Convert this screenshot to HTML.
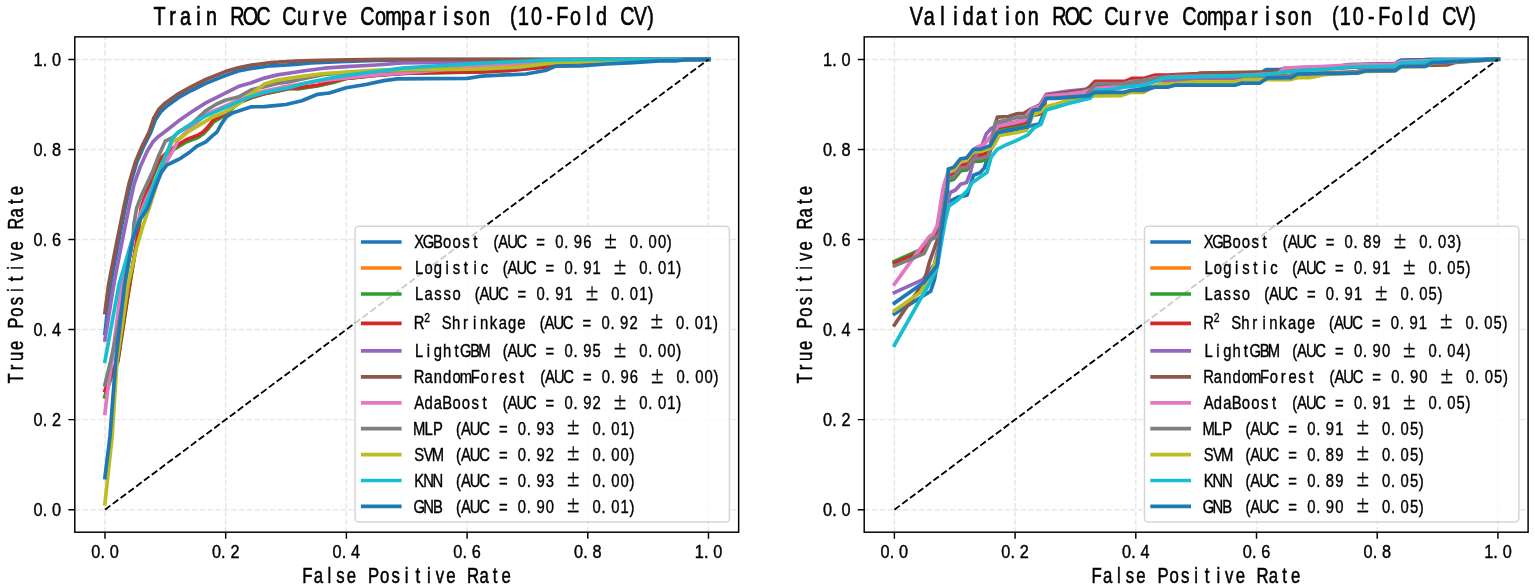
<!DOCTYPE html>
<html lang="en"><head><meta charset="utf-8"><title>ROC Curve Comparison (10-Fold CV)</title>
<style>html,body{margin:0;padding:0;background:#fff}svg{display:block}text{font-family:"Liberation Sans","WenQuanYi Zen Hei",sans-serif;fill:#000;stroke:#000;text-anchor:middle;white-space:pre}.c{fill:none;stroke-width:3.68;stroke-linejoin:round;stroke-linecap:square}.g{stroke:#b0b0b0;stroke-opacity:.3;stroke-width:1.47;stroke-dasharray:5.45 2.36;fill:none}.s{stroke:#000;stroke-width:1.47;fill:none}.pm{font-family:"IPAGothic","Noto Sans CJK SC","Liberation Sans",sans-serif;stroke-width:.2}</style></head><body>
<svg width="1535" height="588" viewBox="0 0 1535 588">
<rect width="1535" height="588" fill="#fff"/>
<defs>
<clipPath id="cp0"><rect x="74.8" y="36.87" width="663.85" height="495.33"/></clipPath>
<clipPath id="cp1"><rect x="864.2" y="36.87" width="663.9" height="495.33"/></clipPath>
</defs>
<g>
<path class="g" d="M104.97 532.2V36.87M225.68 532.2V36.87M346.38 532.2V36.87M467.08 532.2V36.87M587.77 532.2V36.87M708.47 532.2V36.87M74.8 509.69H738.65M74.8 419.63H738.65M74.8 329.57H738.65M74.8 239.5H738.65M74.8 149.45H738.65M74.8 59.39H738.65"/>
<g clip-path="url(#cp0)">
<polyline class="c" stroke="#1f77b4" points="104.9,333.5 110.6,284 117.5,247 125.2,208 130.4,184 136.9,162 144.1,145.3 150.6,132.6 155.3,120 160.6,112 167,106 178.4,97.7 191.4,90.5 205.8,83.4 225.3,75.5 238.3,71 251.4,68.4 270.9,65.8 295,64.5 311,63 346.2,61.5 376.2,60.4 420,59.7 709,59.3"/>
<polyline class="c" stroke="#ff7f0e" points="104.9,396 111,377 117.8,361 126.3,305 131,276 137,241 141.2,209 152,177 159,161 168,152.5 175.8,147.3 186.2,141 197.9,136.5 203.1,133 208.4,127.4 213.6,120.8 225.3,114 238.3,102.7 251.4,97.5 264.4,93.6 277.4,91 290,88.25 298,88.5 317.6,85.5 333.2,82 346.2,78.4 376.2,75.2 402.3,73.4 441,68.5 480,66.9 520,65 560,62 600,60.5 709,59.3"/>
<polyline class="c" stroke="#2ca02c" points="104.9,397 111,378 117.8,362 126.3,306 131,277 137,242 141.2,210 152,178 159,162 168,153.5 175.8,148.3 186.2,142 197.9,137.5 203.1,134 208.4,128.4 213.6,121.8 225.3,115 238.3,102.9 251.4,97.7 264.4,93.8 277.4,91.2 290,88.35 298,89 317.6,86 333.2,82.5 346.2,78.5 376.2,75.3 402.3,73.45 415.3,73.2 454.4,72.4 480,72 510.2,70.5 545.4,67 563,63.5 600,61.5 640,60.3 709,59.3"/>
<polyline class="c" stroke="#d62728" points="104.9,390.6 111,375 117.8,360 126.3,303.5 131,275 137,240 141.2,208 152,176 159,160 168,151.5 175.8,146.3 186.2,139.8 197.9,135.3 203.1,132 208.4,126.4 213.6,119.8 225.3,113.3 238.3,102.5 251.4,97.3 264.4,93.4 277.4,90.8 290,88.15 298,87.8 317.6,85.2 333.2,81.3 346.2,78.3 376.2,75.1 402.3,73.35 415.3,72.8 454.4,72.1 480,72 510.2,70.5 545.4,67 563,63.5 600,61.5 640,60.3 709,59.3"/>
<polyline class="c" stroke="#9467bd" points="104.9,340 113.9,284 121,247 128.9,208 134.1,184.1 140.6,165.9 147.1,151.5 153,141.8 157.5,137.2 164.5,132 178.4,121.1 191.4,112 205.8,102.9 225.3,93.1 238.3,86.6 251.4,82.7 264.4,78.1 277.4,74.9 295,72.3 304.5,70.8 324.1,68.2 346.2,66.7 376.2,65 402.3,63 441.4,62.4 485,61.5 545,60.2 600,59.5 709,59.3"/>
<polyline class="c" stroke="#8c564b" points="104.9,312.7 108.7,284 115.8,247.1 123.7,208 128.9,184.1 135.4,162 142.6,145 149.1,132 153.6,118.5 158.8,109.4 165.4,102.9 178.4,93.8 191.4,86.6 205.8,79.5 225.3,71.6 238.3,67.7 251.4,65.1 270.9,62.5 295,61.2 311,60.7 346.2,59.8 389.2,59.4 709,59.3"/>
<polyline class="c" stroke="#e377c2" points="104.9,413.4 107.4,392.6 111.9,360 121.7,284 127,258 133,237 140,215 148,195 157,178 165.4,163.3 173.2,150.2 178.4,139.8 185,133 195,124 205.8,114.5 216,110 225.3,106 238.3,100.1 251.4,94.9 264.4,91 277.4,88.4 285,86.5 304.5,83.5 324,80.5 346.2,78 376.2,74.8 402.3,73.2 441,70 475,66 520,63 560,61 600,60 709,59.3"/>
<polyline class="c" stroke="#7f7f7f" points="104.9,384.8 110.9,360 116.5,335 122.2,305 124.7,284 129,260 132.8,239.3 134,223.6 136.7,208 141.9,194.5 152.3,172.4 158.8,155.5 165.4,141.1 173.2,137.2 178.4,132.5 191.4,124 200,116 205.8,110.7 216.2,104.2 225.3,100.3 238.3,97 251.4,89.9 264.4,86.6 277.4,83.4 290,81.6 304.5,78.5 324.1,74.5 346.2,72.8 376.2,70.8 415,69.8 455,69.5 485,69 519,67.3 554,63 598,61.4 633,60.2 680,59.6 709,59.3"/>
<polyline class="c" stroke="#bcbd22" points="104.9,503.8 108,475 112.2,436 117.1,360 128.2,284 136.7,247.1 143.2,225 149.2,208 155.6,188 160.8,170 164.6,158 168.6,148.8 172.8,141 179.7,138.5 188,132 199.2,125.1 212.3,117.2 225.3,112 238.3,104.2 251.4,93.8 264.4,84 277.4,80.1 288,78.3 304.5,76.1 324.1,73.5 346.2,72.1 376.2,70.2 415.3,69.5 454.4,69.3 480,68.8 519,67 554.2,62.6 598.1,61.2 633.3,60 680,59.5 709,59.3"/>
<polyline class="c" stroke="#17becf" points="104.9,361.3 119.1,284 128.9,251 137,225 144.5,208 153.6,184.1 161.4,165.9 168,150.2 172.5,138 178.4,132 191.4,123.8 205.8,115.9 225.3,107.5 238.3,101.6 251.4,96.4 264.4,92.5 277.4,89.9 290,87.5 304.5,83.2 324.1,79.3 346.2,75.4 376.2,71.5 402.3,68.2 441.4,65.6 480,63.3 545.4,60.2 587.6,59.5 709,59.3"/>
<polyline class="c" stroke="#1f77b4" points="104.9,477.7 110,436 115.8,360 124.7,284 132.8,239.3 139.3,221 147.7,208 154.9,188 161.4,172.4 166.7,165.2 173.2,162 181,158.1 188.8,152.8 196.6,146.3 205.8,141.8 212.3,135.9 217,132 221.4,123.8 226.6,116.6 233.1,112.7 251.4,106.8 264.4,106.6 277.4,105.3 286,104.5 301.9,100.8 317.6,94.3 329.3,93 346.2,87.8 365.8,84.5 384,80.6 397,78.9 428.3,78.7 467.4,78.4 477.8,76.7 485,75.8 526,74 545.4,70.5 555.9,66.1 580.5,65.8 606.9,64 633.3,62.6 659.7,60.8 677.3,60.8 686.1,59.6 709,59.3"/>
<line x1="104.97" y1="509.69" x2="708.47" y2="59.39" stroke="#000" stroke-width="1.84" stroke-dasharray="6.8 2.94"/>
</g>
<path class="s" d="M104.97 532.2v6.44M74.8 509.69h-6.44M225.68 532.2v6.44M74.8 419.63h-6.44M346.38 532.2v6.44M74.8 329.57h-6.44M467.08 532.2v6.44M74.8 239.5h-6.44M587.77 532.2v6.44M74.8 149.45h-6.44M708.47 532.2v6.44M74.8 59.39h-6.44"/>
<rect class="s" x="74.8" y="36.87" width="663.85" height="495.33" stroke-linejoin="miter"/>
<text transform="translate(104.97,558.3) scale(0.88,1)" x="-10.51 -2.63 10.51" font-size="18.5" stroke-width="0.4">0.0</text>
<text transform="translate(61.22,515.99) scale(0.88,1)" x="-26.28 -18.39 -5.26" font-size="18.5" stroke-width="0.4">0.0</text>
<text transform="translate(225.68,558.3) scale(0.88,1)" x="-10.51 -2.63 10.51" font-size="18.5" stroke-width="0.4">0.2</text>
<text transform="translate(61.22,425.93) scale(0.88,1)" x="-26.28 -18.39 -5.26" font-size="18.5" stroke-width="0.4">0.2</text>
<text transform="translate(346.38,558.3) scale(0.88,1)" x="-10.51 -2.63 10.51" font-size="18.5" stroke-width="0.4">0.4</text>
<text transform="translate(61.22,335.87) scale(0.88,1)" x="-26.28 -18.39 -5.26" font-size="18.5" stroke-width="0.4">0.4</text>
<text transform="translate(467.08,558.3) scale(0.88,1)" x="-10.51 -2.63 10.51" font-size="18.5" stroke-width="0.4">0.6</text>
<text transform="translate(61.22,245.81) scale(0.88,1)" x="-26.28 -18.39 -5.26" font-size="18.5" stroke-width="0.4">0.6</text>
<text transform="translate(587.77,558.3) scale(0.88,1)" x="-10.51 -2.63 10.51" font-size="18.5" stroke-width="0.4">0.8</text>
<text transform="translate(61.22,155.75) scale(0.88,1)" x="-26.28 -18.39 -5.26" font-size="18.5" stroke-width="0.4">0.8</text>
<text transform="translate(708.47,558.3) scale(0.88,1)" x="-10.51 -2.63 10.51" font-size="18.5" stroke-width="0.4">1.0</text>
<text transform="translate(61.22,65.69) scale(0.88,1)" x="-26.28 -18.39 -5.26" font-size="18.5" stroke-width="0.4">1.0</text>
<text transform="translate(406.72,582.5) scale(0.76,1)" x="-130.86 -116.32 -101.78 -87.24 -72.7 -58.16 -43.62 -29.08 -14.54 0 14.54 29.08 43.62 58.16 72.7 87.24 101.78 116.32 130.86" font-size="22.1" stroke-width="0.5">False Positive Rate</text>
<text transform="translate(22.6,284.54) rotate(-90) scale(0.76,1)" x="-123.59 -109.05 -94.51 -79.97 -65.43 -50.89 -36.35 -21.81 -7.27 7.27 21.81 36.35 50.89 65.43 79.97 94.51 109.05 123.59" font-size="22.1" stroke-width="0.5">True Positive Rate</text>
<text transform="translate(406.42,25) scale(0.76,1)" x="-325 -307.89 -290.79 -273.68 -256.58 -239.47 -222.37 -205.26 -188.16 -171.05 -153.95 -136.84 -119.74 -102.63 -85.53 -68.42 -51.32 -34.21 -17.11 0 17.11 34.21 51.32 68.42 85.53 102.63 119.74 140.61 153.95 171.05 188.16 205.26 222.37 239.47 256.58 273.68 290.79 307.89 321.24" font-size="26" stroke-width="0.65">Train ROC Curve Comparison (10-Fold CV)</text>
<rect x="355.1" y="226.2" width="374.35" height="295.8" rx="3.7" ry="3.7" fill="#fff" fill-opacity=".8" stroke="#ccc" stroke-opacity=".8" stroke-width="1.5"/>
<line x1="360.9" y1="242" x2="401.6" y2="242" stroke="#1f77b4" stroke-width="3.68"/>
<text transform="translate(414.5,248.2) scale(0.8,1)" x="5.84 17.51 29.19 40.86 52.54 64.21 75.89 87.56 101.81 110.91 122.59 134.26 145.94 157.61 169.29 180.96 189.72 204.31 215.99 227.66 245.18 262.69 274.36 283.12 297.71 309.39 318.49" font-size="18.5" stroke-width="0.4">XGBoost (AUC = 0.96 <tspan class="pm" font-size="19.43" dy="0.55">±</tspan><tspan dy="-0.55"> 0.00)</tspan></text>
<line x1="360.9" y1="268" x2="401.6" y2="268" stroke="#ff7f0e" stroke-width="3.68"/>
<text transform="translate(414.5,274.2) scale(0.8,1)" x="5.84 17.51 29.19 40.86 52.54 64.21 75.89 87.56 99.24 113.48 122.59 134.26 145.94 157.61 169.29 180.96 192.64 201.39 215.99 227.66 239.34 256.85 274.36 286.04 294.79 309.39 321.06 330.17" font-size="18.5" stroke-width="0.4">Logistic (AUC = 0.91 <tspan class="pm" font-size="19.43" dy="0.55">±</tspan><tspan dy="-0.55"> 0.01)</tspan></text>
<line x1="360.9" y1="294" x2="401.6" y2="294" stroke="#2ca02c" stroke-width="3.68"/>
<text transform="translate(414.5,300.2) scale(0.8,1)" x="5.84 17.51 29.19 40.86 52.54 64.21 78.46 87.56 99.24 110.91 122.59 134.26 145.94 157.61 166.37 180.96 192.64 204.31 221.83 239.34 251.01 259.77 274.36 286.04 295.14" font-size="18.5" stroke-width="0.4">Lasso (AUC = 0.91 <tspan class="pm" font-size="19.43" dy="0.55">±</tspan><tspan dy="-0.55"> 0.01)</tspan></text>
<line x1="360.9" y1="323.3" x2="401.6" y2="323.3" stroke="#d62728" stroke-width="3.68"/>
<text transform="translate(414.5,328.9) scale(0.8,1)" x="5.84 15.82 28.6 40.28 51.95 63.63 75.3 86.98 98.65 110.33 122 133.68 145.35 159.6 168.7 180.38 192.05 203.73 215.4 227.08 238.75 247.51 262.1 273.78 285.45 302.97 320.48 332.15 340.91 355.5 367.18 376.29" font-size="18.5" stroke-width="0.4">R<tspan font-size="12.95" dy="-6.66">2</tspan><tspan dy="6.66"> Shrinkage (AUC = 0.92 <tspan class="pm" font-size="19.43" dy="0.55">±</tspan><tspan dy="-0.55"> 0.01)</tspan></tspan></text>
<line x1="360.9" y1="350.8" x2="401.6" y2="350.8" stroke="#9467bd" stroke-width="3.68"/>
<text transform="translate(414.5,357) scale(0.8,1)" x="5.84 17.51 29.19 40.86 52.54 64.21 75.89 87.56 99.24 113.48 122.59 134.26 145.94 157.61 169.29 180.96 192.64 201.39 215.99 227.66 239.34 256.85 274.36 286.04 294.79 309.39 321.06 330.17" font-size="18.5" stroke-width="0.4">LightGBM (AUC = 0.95 <tspan class="pm" font-size="19.43" dy="0.55">±</tspan><tspan dy="-0.55"> 0.00)</tspan></text>
<line x1="360.9" y1="376.9" x2="401.6" y2="376.9" stroke="#8c564b" stroke-width="3.68"/>
<text transform="translate(414.5,383.1) scale(0.8,1)" x="5.84 17.51 29.19 40.86 52.54 64.21 75.89 87.56 99.24 110.91 122.59 134.26 145.94 160.18 169.29 180.96 192.64 204.31 215.99 227.66 239.34 248.09 262.69 274.36 286.04 303.55 321.06 332.74 341.49 356.09 367.76 376.87" font-size="18.5" stroke-width="0.4">RandomForest (AUC = 0.96 <tspan class="pm" font-size="19.43" dy="0.55">±</tspan><tspan dy="-0.55"> 0.00)</tspan></text>
<line x1="360.9" y1="402.8" x2="401.6" y2="402.8" stroke="#e377c2" stroke-width="3.68"/>
<text transform="translate(414.5,409) scale(0.8,1)" x="5.84 17.51 29.19 40.86 52.54 64.21 75.89 87.56 99.24 113.48 122.59 134.26 145.94 157.61 169.29 180.96 192.64 201.39 215.99 227.66 239.34 256.85 274.36 286.04 294.79 309.39 321.06 330.17" font-size="18.5" stroke-width="0.4">AdaBoost (AUC = 0.92 <tspan class="pm" font-size="19.43" dy="0.55">±</tspan><tspan dy="-0.55"> 0.01)</tspan></text>
<line x1="360.9" y1="428.7" x2="401.6" y2="428.7" stroke="#7f7f7f" stroke-width="3.68"/>
<text transform="translate(414.5,434.9) scale(0.8,1)" x="5.84 17.51 29.19 40.86 55.11 64.21 75.89 87.56 99.24 110.91 122.59 134.26 143.02 157.61 169.29 180.96 198.48 215.99 227.66 236.42 251.01 262.69 271.79" font-size="18.5" stroke-width="0.4">MLP (AUC = 0.93 <tspan class="pm" font-size="19.43" dy="0.55">±</tspan><tspan dy="-0.55"> 0.01)</tspan></text>
<line x1="360.9" y1="454.6" x2="401.6" y2="454.6" stroke="#bcbd22" stroke-width="3.68"/>
<text transform="translate(414.5,460.8) scale(0.8,1)" x="5.84 17.51 29.19 40.86 55.11 64.21 75.89 87.56 99.24 110.91 122.59 134.26 143.02 157.61 169.29 180.96 198.48 215.99 227.66 236.42 251.01 262.69 271.79" font-size="18.5" stroke-width="0.4">SVM (AUC = 0.92 <tspan class="pm" font-size="19.43" dy="0.55">±</tspan><tspan dy="-0.55"> 0.00)</tspan></text>
<line x1="360.9" y1="480.5" x2="401.6" y2="480.5" stroke="#17becf" stroke-width="3.68"/>
<text transform="translate(414.5,486.7) scale(0.8,1)" x="5.84 17.51 29.19 40.86 55.11 64.21 75.89 87.56 99.24 110.91 122.59 134.26 143.02 157.61 169.29 180.96 198.48 215.99 227.66 236.42 251.01 262.69 271.79" font-size="18.5" stroke-width="0.4">KNN (AUC = 0.93 <tspan class="pm" font-size="19.43" dy="0.55">±</tspan><tspan dy="-0.55"> 0.00)</tspan></text>
<line x1="360.9" y1="506.4" x2="401.6" y2="506.4" stroke="#1f77b4" stroke-width="3.68"/>
<text transform="translate(414.5,512.6) scale(0.8,1)" x="5.84 17.51 29.19 40.86 55.11 64.21 75.89 87.56 99.24 110.91 122.59 134.26 143.02 157.61 169.29 180.96 198.48 215.99 227.66 236.42 251.01 262.69 271.79" font-size="18.5" stroke-width="0.4">GNB (AUC = 0.90 <tspan class="pm" font-size="19.43" dy="0.55">±</tspan><tspan dy="-0.55"> 0.01)</tspan></text>
</g>
<g>
<path class="g" d="M894.38 532.2V36.87M1015.09 532.2V36.87M1135.8 532.2V36.87M1256.5 532.2V36.87M1377.21 532.2V36.87M1497.92 532.2V36.87M864.2 509.69H1528.1M864.2 419.63H1528.1M864.2 329.57H1528.1M864.2 239.5H1528.1M864.2 149.45H1528.1M864.2 59.39H1528.1"/>
<g clip-path="url(#cp1)">
<polyline class="c" stroke="#1f77b4" points="894.4,313.9 930.6,291.3 934.5,279.6 940,247 945,215 947.5,202.3 958,197.1 967.1,195.1 973.5,175.3 980,172.8 984.4,168 987,159 992,146 997.5,133 1005.8,131.5 1018.8,129 1029.2,126.3 1039.7,123.7 1043.6,113.3 1046.5,108 1055,105 1068,102 1089,97 1095,94 1124,93 1130,91 1155,86 1175,82 1200,79 1235,77 1259.6,73.5 1266.1,69.5 1280.4,69.5 1285,68.2 1334.9,66.5 1349.9,64.7 1394.9,63.5 1400.9,60.2 1424.8,59.7 1430.8,59.3 1498.3,59.3"/>
<polyline class="c" stroke="#ff7f0e" points="894.4,262 916.3,252 924,249.5 930,239 936,233 940,225 944,199 947.5,174 948.5,172.9 954,171.2 960.8,162.7 966.8,161.9 973.6,153.4 981.2,153.1 988.2,150.5 990,147 994,135 998,128 1026.6,123.5 1031,115.5 1042,113 1046,97.5 1068,94 1085,90.5 1089,88 1095,82.5 1125,82.5 1132,79.5 1144,79.5 1155,76 1170,76 1200,74.5 1260,73 1267,72.6 1300,69 1335,67.5 1350,65.5 1395,64.5 1401,62.5 1432,61 1498.3,59.3"/>
<polyline class="c" stroke="#2ca02c" points="894.4,261.4 916.3,251.6 924,249 930,239.5 936,233.5 940,226 944,202 947.5,183 948.5,180.9 954,179.2 960.8,170.7 966.8,169.9 973.6,161.4 981.2,161.1 988.2,158.5 990,150 994,136 998,128.9 1026.6,124.3 1031,116 1042,113.5 1046,98 1068,94.5 1085,91 1089,88.5 1095,83 1125,83 1132,80 1144,80 1155,76.5 1170,76.5 1200,75 1260,73.5 1267,72.6 1300,69.5 1335,68 1350,66 1395,65 1401,63 1432,61.5 1498.3,59.3"/>
<polyline class="c" stroke="#d62728" points="894.4,263.3 922.8,250.9 930,238 936,232 940,225 944,200 947.5,178 948.5,174.9 954,173.2 960.8,164.7 966.8,163.9 973.6,155.4 981.2,155.1 988.2,152.5 990,148 994,134 998,127.5 1016,124 1026,122 1031,115 1035.7,113.9 1042.3,112.6 1046,97 1068,93.5 1085,90 1089.2,87.2 1094.4,82 1095.4,81.3 1125.4,81.3 1131.9,78.4 1143.6,78.4 1155.4,75 1169.7,75 1176,74.5 1200,73.5 1260,72.5 1267,72.6 1300,68.5 1335,67 1350,65 1395,64 1401,62 1432,61 1498.3,59.3"/>
<polyline class="c" stroke="#9467bd" points="894.4,292.6 922.8,279.6 934.5,264 939,245 943,225 947,205 950.1,192.5 955.5,190 960.6,184.2 966.6,182.5 970,174 972.5,163.8 978,150 982.5,144 986.2,134.1 991.4,128.3 998,125 1016,122 1026,120 1031,110 1039.7,105.5 1046.2,94.4 1068.3,91.1 1087.9,89.2 1095,86 1125,86 1131,83.5 1144,83 1158,81 1176.2,80 1241.4,79.3 1247.6,76.7 1260,76.3 1290,76 1297,74.5 1335,73.5 1357,72 1365,70 1395,69 1401,65 1425,64.5 1432,61.5 1498.3,59.3"/>
<polyline class="c" stroke="#8c564b" points="894.4,325 904.5,310 924.1,282.2 929.3,262.7 937.1,240.5 938.4,234 943,205 947.5,180 948.5,178.9 954,177.2 960.8,168.7 966.8,167.9 973.6,159.4 981.2,159.1 988.2,156.5 992.8,134.1 997.3,117.2 1008.4,116.5 1016.2,113.9 1024,113.3 1029.2,110 1034.4,107.4 1040,105 1046,95.5 1068,92.5 1085,90 1090,88 1095,84.5 1125,84.5 1132,81 1144,80 1156,77 1176.2,74.8 1194.4,74.5 1199.7,73.2 1259.6,72.1 1267,72.6 1300,70 1335,68.5 1350,67.5 1395,66.5 1401,65.5 1425,65.5 1447,65 1455,62.5 1498.3,59.3"/>
<polyline class="c" stroke="#e377c2" points="894.4,284.2 917.6,252.2 929.3,236.6 933.2,234 937.1,225.8 942.8,190 944.9,181.5 948.2,172.3 953.8,170.5 960.6,162 966.6,160.5 972,152 975.9,147.7 984.5,144 991,136 998,126.3 1016.2,122.4 1024,120.4 1029.2,112 1033.1,108.1 1040,106 1046,96 1068,94 1081.4,92.4 1094.4,88.5 1111.1,87.1 1130.6,81.9 1143.6,80.6 1155,78 1176,76.5 1240,75.5 1260,74.3 1278,73.5 1284,68.2 1320,66.5 1350,65 1395,64 1401,61.5 1432,60.5 1498.3,59.3"/>
<polyline class="c" stroke="#7f7f7f" points="894.4,265.9 924.1,253.5 930.6,239.9 937.1,236.6 939.7,234 944,205 947.5,183 948.5,178.4 954,176.7 960.8,168.2 966.8,167.4 973.6,158.9 981.2,158.6 988.2,156 993,135 995.4,122.4 1005.8,120.4 1016.2,117.8 1027.9,116.5 1033,110.5 1039.7,109.6 1046.2,98.5 1068,97.2 1085,95.8 1089.2,91.8 1094.4,85.3 1096.1,83.6 1124.1,83.6 1158,78 1170,77.5 1200,77 1260,76 1290,75.3 1297,73.5 1335,72.5 1357,71.5 1365,69.5 1395,68.5 1401,64 1425,63.5 1432,61 1498.3,59.3"/>
<polyline class="c" stroke="#bcbd22" points="894.4,310.7 920.2,292.6 930.6,274.4 938,255 942,230 947,195 948.5,171.2 954,169.5 960.8,161 966.8,160.2 973.6,151.7 981.2,151.4 988.2,148.8 992.8,147.2 999.3,135.4 1016.2,132.8 1026.6,130.2 1033,115 1040,112 1046.2,106.8 1055.3,104.2 1068.3,100.3 1094.1,96 1121.5,95.6 1130.6,92.3 1143.6,92.3 1158,84.5 1169.7,83.9 1195.8,81.9 1234.8,81.9 1245.3,79.6 1290,79.6 1297.5,77.7 1309.5,77.7 1324.4,74.7 1357,73 1365,71.5 1395,71 1401,67 1425,66.5 1432,63 1455,62 1498.3,59.3"/>
<polyline class="c" stroke="#17becf" points="894.4,345.2 914.3,310 929.3,283.5 937.1,267.9 941,245 945,222 948.8,206.2 958,199.7 967.4,190.5 972.5,182.5 981,176.6 987,172.3 991.2,157 997.2,149.4 1006.5,144.7 1016.2,140.6 1027.9,134.8 1034.4,127.6 1041,124.3 1046.2,110 1055.3,107.4 1068.3,103.5 1085,99.5 1090.2,98.2 1095.4,90.4 1111.1,89.7 1124.1,87.1 1143.6,85.2 1158,80.6 1163.2,78 1176.2,77.4 1215.3,76.1 1259.6,74.8 1267.4,74.1 1285,72.1 1300,70.5 1335,68.5 1350,67 1395,66 1401,63 1425,62 1432,60.5 1498.3,59.3"/>
<polyline class="c" stroke="#1f77b4" points="894.4,303.1 924.1,282.2 937.1,265.3 941,234 947.4,190 948.3,168.9 953.8,167.2 960.6,158.7 966.6,157.9 973.4,149.4 981,149.1 990.1,145.8 997.3,132.8 1005.8,130.9 1018.8,128.3 1027.9,127 1033.1,110 1039.7,109.4 1046.2,98.3 1055.3,98.3 1068.3,97.4 1089.2,95.7 1094.1,92.3 1124.1,92.3 1130.6,90.4 1143.6,90.4 1155.4,87.1 1168.4,87.1 1174.9,85.2 1234.8,85.2 1241.4,83.2 1259.6,83.2 1267.4,78 1291.5,77.7 1297.5,74 1357.4,73.2 1364.9,71 1394.9,70.7 1400.9,66.5 1424.8,66.5 1432.3,62.7 1454.8,61.7 1498.3,59.3"/>
<line x1="894.38" y1="509.69" x2="1497.92" y2="59.39" stroke="#000" stroke-width="1.84" stroke-dasharray="6.8 2.94"/>
</g>
<path class="s" d="M894.38 532.2v6.44M864.2 509.69h-6.44M1015.09 532.2v6.44M864.2 419.63h-6.44M1135.8 532.2v6.44M864.2 329.57h-6.44M1256.5 532.2v6.44M864.2 239.5h-6.44M1377.21 532.2v6.44M864.2 149.45h-6.44M1497.92 532.2v6.44M864.2 59.39h-6.44"/>
<rect class="s" x="864.2" y="36.87" width="663.9" height="495.33" stroke-linejoin="miter"/>
<text transform="translate(894.38,558.3) scale(0.88,1)" x="-10.51 -2.63 10.51" font-size="18.5" stroke-width="0.4">0.0</text>
<text transform="translate(850.62,515.99) scale(0.88,1)" x="-26.28 -18.39 -5.26" font-size="18.5" stroke-width="0.4">0.0</text>
<text transform="translate(1015.09,558.3) scale(0.88,1)" x="-10.51 -2.63 10.51" font-size="18.5" stroke-width="0.4">0.2</text>
<text transform="translate(850.62,425.93) scale(0.88,1)" x="-26.28 -18.39 -5.26" font-size="18.5" stroke-width="0.4">0.2</text>
<text transform="translate(1135.8,558.3) scale(0.88,1)" x="-10.51 -2.63 10.51" font-size="18.5" stroke-width="0.4">0.4</text>
<text transform="translate(850.62,335.87) scale(0.88,1)" x="-26.28 -18.39 -5.26" font-size="18.5" stroke-width="0.4">0.4</text>
<text transform="translate(1256.5,558.3) scale(0.88,1)" x="-10.51 -2.63 10.51" font-size="18.5" stroke-width="0.4">0.6</text>
<text transform="translate(850.62,245.81) scale(0.88,1)" x="-26.28 -18.39 -5.26" font-size="18.5" stroke-width="0.4">0.6</text>
<text transform="translate(1377.21,558.3) scale(0.88,1)" x="-10.51 -2.63 10.51" font-size="18.5" stroke-width="0.4">0.8</text>
<text transform="translate(850.62,155.75) scale(0.88,1)" x="-26.28 -18.39 -5.26" font-size="18.5" stroke-width="0.4">0.8</text>
<text transform="translate(1497.92,558.3) scale(0.88,1)" x="-10.51 -2.63 10.51" font-size="18.5" stroke-width="0.4">1.0</text>
<text transform="translate(850.62,65.69) scale(0.88,1)" x="-26.28 -18.39 -5.26" font-size="18.5" stroke-width="0.4">1.0</text>
<text transform="translate(1196.15,582.5) scale(0.76,1)" x="-130.86 -116.32 -101.78 -87.24 -72.7 -58.16 -43.62 -29.08 -14.54 0 14.54 29.08 43.62 58.16 72.7 87.24 101.78 116.32 130.86" font-size="22.1" stroke-width="0.5">False Positive Rate</text>
<text transform="translate(812,284.54) rotate(-90) scale(0.76,1)" x="-123.59 -109.05 -94.51 -79.97 -65.43 -50.89 -36.35 -21.81 -7.27 7.27 21.81 36.35 50.89 65.43 79.97 94.51 109.05 123.59" font-size="22.1" stroke-width="0.5">True Positive Rate</text>
<text transform="translate(1195.85,25) scale(0.76,1)" x="-367.76 -350.66 -333.55 -316.45 -299.34 -282.24 -265.13 -248.03 -230.92 -213.82 -196.71 -179.61 -162.5 -145.39 -128.29 -111.18 -94.08 -76.97 -59.87 -42.76 -25.66 -8.55 8.55 25.66 42.76 59.87 76.97 94.08 111.18 128.29 145.39 162.5 183.37 196.71 213.82 230.92 248.03 265.13 282.24 299.34 316.45 333.55 350.66 364" font-size="26" stroke-width="0.65">Validation ROC Curve Comparison (10-Fold CV)</text>
<rect x="1144.5" y="226.2" width="374.4" height="295.8" rx="3.7" ry="3.7" fill="#fff" fill-opacity=".8" stroke="#ccc" stroke-opacity=".8" stroke-width="1.5"/>
<line x1="1150.3" y1="242" x2="1191" y2="242" stroke="#1f77b4" stroke-width="3.68"/>
<text transform="translate(1203.9,248.2) scale(0.8,1)" x="5.84 17.51 29.19 40.86 52.54 64.21 75.89 87.56 101.81 110.91 122.59 134.26 145.94 157.61 169.29 180.96 189.72 204.31 215.99 227.66 245.18 262.69 274.36 283.12 297.71 309.39 318.49" font-size="18.5" stroke-width="0.4">XGBoost (AUC = 0.89 <tspan class="pm" font-size="19.43" dy="0.55">±</tspan><tspan dy="-0.55"> 0.03)</tspan></text>
<line x1="1150.3" y1="268" x2="1191" y2="268" stroke="#ff7f0e" stroke-width="3.68"/>
<text transform="translate(1203.9,274.2) scale(0.8,1)" x="5.84 17.51 29.19 40.86 52.54 64.21 75.89 87.56 99.24 113.48 122.59 134.26 145.94 157.61 169.29 180.96 192.64 201.39 215.99 227.66 239.34 256.85 274.36 286.04 294.79 309.39 321.06 330.17" font-size="18.5" stroke-width="0.4">Logistic (AUC = 0.91 <tspan class="pm" font-size="19.43" dy="0.55">±</tspan><tspan dy="-0.55"> 0.05)</tspan></text>
<line x1="1150.3" y1="294" x2="1191" y2="294" stroke="#2ca02c" stroke-width="3.68"/>
<text transform="translate(1203.9,300.2) scale(0.8,1)" x="5.84 17.51 29.19 40.86 52.54 64.21 78.46 87.56 99.24 110.91 122.59 134.26 145.94 157.61 166.37 180.96 192.64 204.31 221.83 239.34 251.01 259.77 274.36 286.04 295.14" font-size="18.5" stroke-width="0.4">Lasso (AUC = 0.91 <tspan class="pm" font-size="19.43" dy="0.55">±</tspan><tspan dy="-0.55"> 0.05)</tspan></text>
<line x1="1150.3" y1="323.3" x2="1191" y2="323.3" stroke="#d62728" stroke-width="3.68"/>
<text transform="translate(1203.9,328.9) scale(0.8,1)" x="5.84 15.82 28.6 40.28 51.95 63.63 75.3 86.98 98.65 110.33 122 133.68 145.35 159.6 168.7 180.38 192.05 203.73 215.4 227.08 238.75 247.51 262.1 273.78 285.45 302.97 320.48 332.15 340.91 355.5 367.18 376.29" font-size="18.5" stroke-width="0.4">R<tspan font-size="12.95" dy="-6.66">2</tspan><tspan dy="6.66"> Shrinkage (AUC = 0.91 <tspan class="pm" font-size="19.43" dy="0.55">±</tspan><tspan dy="-0.55"> 0.05)</tspan></tspan></text>
<line x1="1150.3" y1="350.8" x2="1191" y2="350.8" stroke="#9467bd" stroke-width="3.68"/>
<text transform="translate(1203.9,357) scale(0.8,1)" x="5.84 17.51 29.19 40.86 52.54 64.21 75.89 87.56 99.24 113.48 122.59 134.26 145.94 157.61 169.29 180.96 192.64 201.39 215.99 227.66 239.34 256.85 274.36 286.04 294.79 309.39 321.06 330.17" font-size="18.5" stroke-width="0.4">LightGBM (AUC = 0.90 <tspan class="pm" font-size="19.43" dy="0.55">±</tspan><tspan dy="-0.55"> 0.04)</tspan></text>
<line x1="1150.3" y1="376.9" x2="1191" y2="376.9" stroke="#8c564b" stroke-width="3.68"/>
<text transform="translate(1203.9,383.1) scale(0.8,1)" x="5.84 17.51 29.19 40.86 52.54 64.21 75.89 87.56 99.24 110.91 122.59 134.26 145.94 160.18 169.29 180.96 192.64 204.31 215.99 227.66 239.34 248.09 262.69 274.36 286.04 303.55 321.06 332.74 341.49 356.09 367.76 376.87" font-size="18.5" stroke-width="0.4">RandomForest (AUC = 0.90 <tspan class="pm" font-size="19.43" dy="0.55">±</tspan><tspan dy="-0.55"> 0.05)</tspan></text>
<line x1="1150.3" y1="402.8" x2="1191" y2="402.8" stroke="#e377c2" stroke-width="3.68"/>
<text transform="translate(1203.9,409) scale(0.8,1)" x="5.84 17.51 29.19 40.86 52.54 64.21 75.89 87.56 99.24 113.48 122.59 134.26 145.94 157.61 169.29 180.96 192.64 201.39 215.99 227.66 239.34 256.85 274.36 286.04 294.79 309.39 321.06 330.17" font-size="18.5" stroke-width="0.4">AdaBoost (AUC = 0.91 <tspan class="pm" font-size="19.43" dy="0.55">±</tspan><tspan dy="-0.55"> 0.05)</tspan></text>
<line x1="1150.3" y1="428.7" x2="1191" y2="428.7" stroke="#7f7f7f" stroke-width="3.68"/>
<text transform="translate(1203.9,434.9) scale(0.8,1)" x="5.84 17.51 29.19 40.86 55.11 64.21 75.89 87.56 99.24 110.91 122.59 134.26 143.02 157.61 169.29 180.96 198.48 215.99 227.66 236.42 251.01 262.69 271.79" font-size="18.5" stroke-width="0.4">MLP (AUC = 0.91 <tspan class="pm" font-size="19.43" dy="0.55">±</tspan><tspan dy="-0.55"> 0.05)</tspan></text>
<line x1="1150.3" y1="454.6" x2="1191" y2="454.6" stroke="#bcbd22" stroke-width="3.68"/>
<text transform="translate(1203.9,460.8) scale(0.8,1)" x="5.84 17.51 29.19 40.86 55.11 64.21 75.89 87.56 99.24 110.91 122.59 134.26 143.02 157.61 169.29 180.96 198.48 215.99 227.66 236.42 251.01 262.69 271.79" font-size="18.5" stroke-width="0.4">SVM (AUC = 0.89 <tspan class="pm" font-size="19.43" dy="0.55">±</tspan><tspan dy="-0.55"> 0.05)</tspan></text>
<line x1="1150.3" y1="480.5" x2="1191" y2="480.5" stroke="#17becf" stroke-width="3.68"/>
<text transform="translate(1203.9,486.7) scale(0.8,1)" x="5.84 17.51 29.19 40.86 55.11 64.21 75.89 87.56 99.24 110.91 122.59 134.26 143.02 157.61 169.29 180.96 198.48 215.99 227.66 236.42 251.01 262.69 271.79" font-size="18.5" stroke-width="0.4">KNN (AUC = 0.89 <tspan class="pm" font-size="19.43" dy="0.55">±</tspan><tspan dy="-0.55"> 0.05)</tspan></text>
<line x1="1150.3" y1="506.4" x2="1191" y2="506.4" stroke="#1f77b4" stroke-width="3.68"/>
<text transform="translate(1203.9,512.6) scale(0.8,1)" x="5.84 17.51 29.19 40.86 55.11 64.21 75.89 87.56 99.24 110.91 122.59 134.26 143.02 157.61 169.29 180.96 198.48 215.99 227.66 236.42 251.01 262.69 271.79" font-size="18.5" stroke-width="0.4">GNB (AUC = 0.90 <tspan class="pm" font-size="19.43" dy="0.55">±</tspan><tspan dy="-0.55"> 0.05)</tspan></text>
</g>
</svg></body></html>
